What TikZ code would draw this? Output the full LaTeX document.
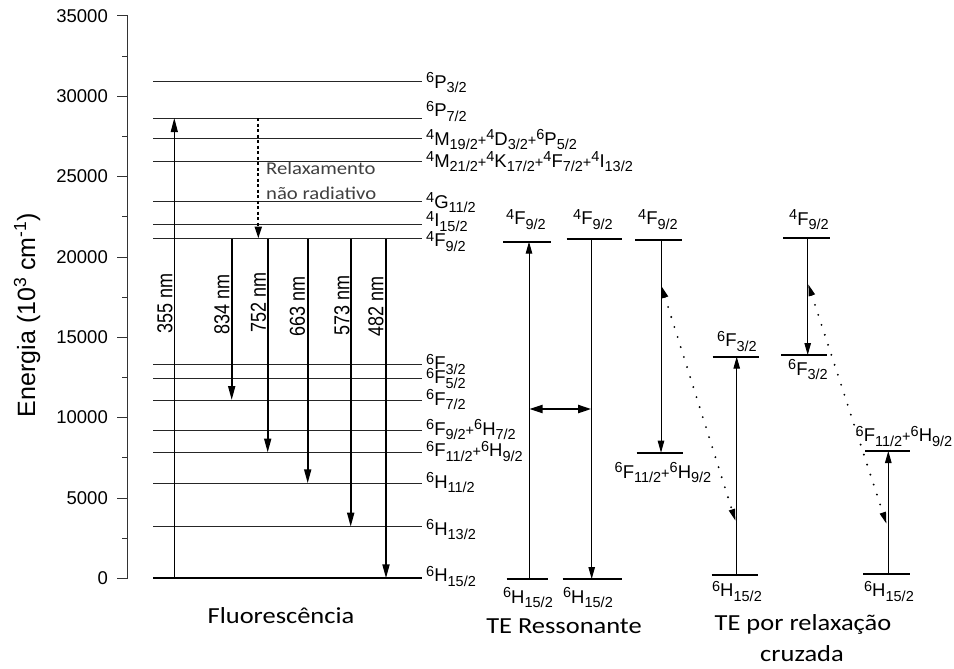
\documentclass[tikz,border=0pt]{standalone}
\usepackage{fontspec}
\setmainfont{Liberation Sans}
\newfontfamily\fA{Liberation Sans}
\newfontfamily\fC{Carlito}[FakeStretch=1.15]
\usetikzlibrary{arrows.meta}
\newcommand\subf{\fontsize{14.5}{15}\selectfont}
\newcommand\Lv[3]{\raisebox{5.5pt}{\subf #1}#2\raisebox{-4.5pt}{\subf #3}}
\newcommand\pls{{\subf+}}
\tikzset{
  lvl/.style={draw=black!85, line width=0.9pt},
  lvlbold/.style={draw=black, line width=2pt},
  plvl/.style={draw=black, line width=1.9pt},
  emis/.style={draw=black, line width=1.8pt, -{Triangle[length=14pt,width=7pt]}},
  exc/.style={draw=black, line width=1.1pt, -{Triangle[length=14pt,width=7pt]}},
  tr/.style={draw=black, line width=1pt, -{Triangle[length=12pt,width=6.5pt]}},
  dbl/.style={draw=black, line width=1.8pt, {Triangle[length=13pt,width=8pt]}-{Triangle[length=13pt,width=8pt]}},
  dotsarr/.style={draw=black, line width=2.1pt, line cap=round, dash pattern=on 0pt off 10.5pt,
     {Triangle[length=12pt,width=6pt]}-{Triangle[length=12pt,width=6pt]}},
  relax/.style={draw=black, line width=2pt, dash pattern=on 3pt off 2.5pt, -{Triangle[length=12pt,width=7pt]}},
  lab/.style={font=\fA\fontsize{18.5}{20}\selectfont, inner sep=0pt},
  llab/.style={lab, anchor=base west},
  plab/.style={lab, anchor=base},
  ticklab/.style={font=\fA\fontsize{18.5}{20}\selectfont, inner sep=0pt, anchor=east},
  nmlab/.style={font=\fA\fontsize{18}{20}\selectfont, inner sep=0pt, rotate=90},
  captxt/.style={font=\fC\fontsize{23}{27}\selectfont, inner sep=0pt},
}
\begin{document}
\begin{tikzpicture}[x=1pt,y=-1pt]
\path[use as bounding box, fill=white] (0,0) rectangle (954,669);

% axis
\coordinate (axT) at (127.5,16);
\coordinate (axB) at (127.5,578.3);
\draw[black!80, line width=1pt] (axT) -- (axB);
\foreach \v/\y in {0/578.3,5000/498.0,10000/417.6,15000/337.3,20000/257.0,25000/176.6,30000/96.3,35000/16.0}{
  \draw[black!80, line width=1pt] (117,\y) -- (127.5,\y);
  \node[ticklab] (t\v) at (108,\y) {\v};
}
\foreach \y in {538.1,457.8,377.5,297.1,216.8,136.5,56.2}{
  \draw[black!80, line width=1pt] (122,\y) -- (127.5,\y);
}
\node[font=\fA\fontsize{25}{28}\selectfont, rotate=90, inner sep=0pt] (axlab) at (27,315)
  {Energia (10\textsuperscript{3} cm\textsuperscript{-1})};

% fluorescence levels
\foreach \n/\y in {P32/81,P72/118,M19/138.5,M21/161.5,G11/201.5,I15/224.5,F92/238.5,
                   F32/364.5,F52/378.5,F72/400,F9H7/430.5,F11H9/452.5,H112/483.3,H132/526.7}{
  \draw[lvl] (153,\y) coordinate (\n L) -- (422,\y) coordinate (\n R);
}
\draw[lvlbold] (153,578.3) coordinate (H152L) -- (422,578.3) coordinate (H152R);

% level labels
\node[llab] (lP32) at (426,88.3) {\Lv{6}{P}{3/2}};
\node[llab] (lP72) at (426,116.7) {\Lv{6}{P}{7/2}};
\node[llab] (lM19) at (426,145) {\Lv{4}{M}{19/2}\pls\Lv{4}{D}{3/2}\pls\Lv{6}{P}{5/2}};
\node[llab] (lM21) at (426,167.3) {\Lv{4}{M}{21/2}\pls\Lv{4}{K}{17/2}\pls\Lv{4}{F}{7/2}\pls\Lv{4}{I}{13/2}};
\node[llab] (lG11) at (426,208.3) {\Lv{4}{G}{11/2}};
\node[llab] (lI15) at (426,226.5) {\Lv{4}{I}{15/2}};
\node[llab] (lF92) at (426,246.5) {\Lv{4}{F}{9/2}};
\node[llab] (lF3252) at (426,369.5)
  {\rlap{\raisebox{-14pt}{\Lv{6}{F}{5/2}}}\Lv{6}{F}{3/2}};
\node[llab] (lF72) at (426,405) {\Lv{6}{F}{7/2}};
\node[llab] (lF9H7) at (426,435) {\Lv{6}{F}{9/2}\pls\Lv{6}{H}{7/2}};
\node[llab] (lF11H9) at (426,456.7) {\Lv{6}{F}{11/2}\pls\Lv{6}{H}{9/2}};
\node[llab] (lH112) at (426,488) {\Lv{6}{H}{11/2}};
\node[llab] (lH132) at (426,535) {\Lv{6}{H}{13/2}};
\node[llab] (lH152) at (426,581.7) {\Lv{6}{H}{15/2}};

% fluorescence transitions
\coordinate (e355b) at (174.3,578.3); \coordinate (e355t) at (174.3,118);
\draw[exc] (e355b) -- (e355t);
\coordinate (r0) at (258.3,118); \coordinate (r1) at (258.3,238.5);
\draw[relax] (r0) -- (r1);
\foreach \n/\x/\y in {834/231.7/400,752/267.7/452.5,663/307.7/483.3,573/350.7/526.7,482/386/578.3}{
  \coordinate (e\n t) at (\x,238.5);
  \coordinate (e\n b) at (\x,\y);
  \draw[emis] (e\n t) -- (e\n b);
}
\node[nmlab] (n355) at (165,303) {\scalebox{1}[1.2]{355 nm}};
\node[nmlab] (n834) at (222,304) {\scalebox{1}[1.2]{834 nm}};
\node[nmlab] (n752) at (258.5,302) {\scalebox{1}[1.2]{752 nm}};
\node[nmlab] (n663) at (297.5,306) {\scalebox{1}[1.2]{663 nm}};
\node[nmlab] (n573) at (342,305) {\scalebox{1}[1.2]{573 nm}};
\node[nmlab] (n482) at (376,306) {\scalebox{1}[1.2]{482 nm}};

\node[font=\fC\fontsize{18}{25}\selectfont, text=black!75, anchor=west, align=left, inner sep=0pt] (relaxlab)
  at (266,181) {Relaxamento\\não radiativo};

\node[captxt] (cap1) at (281,616) {Fluorescência};

% panel 2: resonant
\draw[plvl] (503.3,241.7) -- (550.7,241.7);
\draw[plvl] (506.7,579) -- (548.3,579);
\draw[plvl] (566.7,239) -- (621.7,239);
\draw[plvl] (562.7,579) -- (622.3,579);
\coordinate (p2ub) at (529,579); \coordinate (p2ut) at (529,241.7);
\draw[tr] (p2ub) -- (p2ut);
\coordinate (p2dt) at (591.7,239); \coordinate (p2db) at (591.7,579);
\draw[tr] (p2dt) -- (p2db);
\coordinate (p2hl) at (529.5,409); \coordinate (p2hr) at (591.2,409);
\draw[dbl] (p2hl) -- (p2hr);
\node[plab] (p2l1) at (526,224.5) {\Lv{4}{F}{9/2}};
\node[plab] (p2l2) at (593,224.5) {\Lv{4}{F}{9/2}};
\node[plab] (p2l3) at (528,603) {\Lv{6}{H}{15/2}};
\node[plab] (p2l4) at (588,603) {\Lv{6}{H}{15/2}};
\node[captxt] (cap2) at (564,626) {TE Ressonante};

% panel 3: cross relaxation (a)
\draw[plvl] (635,240) -- (681.7,240);
\draw[plvl] (636.7,452.7) -- (683.3,452.7);
\draw[plvl] (712.7,356.7) -- (759.3,356.7);
\draw[plvl] (711.7,575) -- (758.3,575);
\coordinate (p3dt) at (661,240); \coordinate (p3db) at (661,452.7);
\draw[tr] (p3dt) -- (p3db);
\coordinate (p3ub) at (736.7,575); \coordinate (p3ut) at (736.7,356.7);
\draw[tr] (p3ub) -- (p3ut);
\coordinate (p3x0) at (661.5,286); \coordinate (p3x1) at (735.5,521);
\draw[dotsarr] (p3x0) -- (p3x1);
\node[plab] (p3l1) at (658,224.5) {\Lv{4}{F}{9/2}};
\node[plab] (p3l2) at (663,478.3) {\Lv{6}{F}{11/2}\pls\Lv{6}{H}{9/2}};
\node[plab] (p3l3) at (737,346.7) {\Lv{6}{F}{3/2}};
\node[plab] (p3l4) at (737,596.7) {\Lv{6}{H}{15/2}};

% panel 4: cross relaxation (b)
\draw[plvl] (783.3,238.3) -- (830,238.3);
\draw[plvl] (781,355) -- (826.7,355);
\draw[plvl] (865,451) -- (910,451);
\draw[plvl] (863,574) -- (910,574);
\coordinate (p4dt) at (807.7,238.3); \coordinate (p4db) at (807.7,355);
\draw[tr] (p4dt) -- (p4db);
\coordinate (p4ub) at (888.3,574); \coordinate (p4ut) at (888.3,451);
\draw[tr] (p4ub) -- (p4ut);
\coordinate (p4x0) at (808.2,284); \coordinate (p4x1) at (886.5,524);
\draw[dotsarr] (p4x0) -- (p4x1);
\node[plab] (p4l1) at (809,225) {\Lv{4}{F}{9/2}};
\node[plab] (p4l2) at (808,375) {\Lv{6}{F}{3/2}};
\node[plab] (p4l3) at (904,441.7) {\Lv{6}{F}{11/2}\pls\Lv{6}{H}{9/2}};
\node[plab] (p4l4) at (889,596.7) {\Lv{6}{H}{15/2}};

\node[captxt] (cap3) at (803,624) {TE por relaxação};
\node[captxt] (cap4) at (802,654) {cruzada};
\end{tikzpicture}
\end{document}
